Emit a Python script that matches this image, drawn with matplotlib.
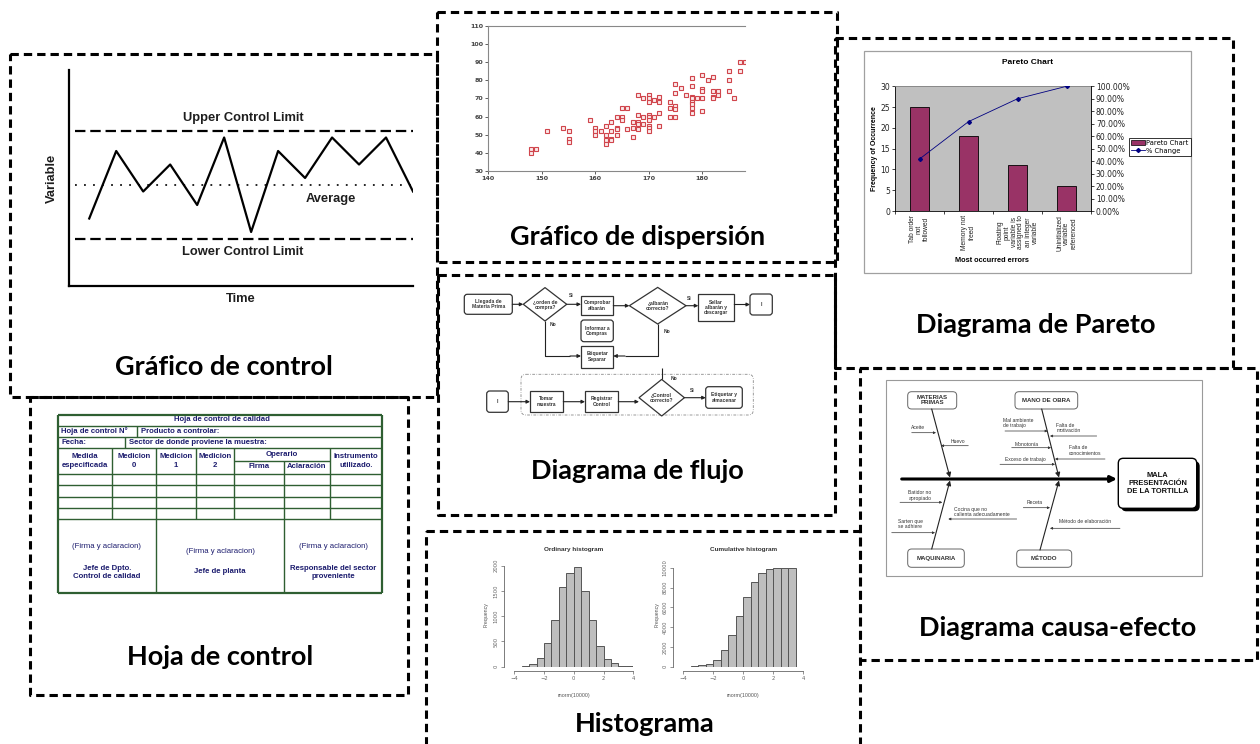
import numpy as np
import matplotlib
matplotlib.use('Agg')
import matplotlib.pyplot as plt
from matplotlib.patches import FancyBboxPatch, Polygon, Rectangle, Patch
from matplotlib.lines import Line2D
from matplotlib.transforms import blended_transform_factory
from matplotlib import font_manager

plt.rcParams['lines.scale_dashes'] = False

# ---------------------------------------------------------------- data
control_values = [1, 6, 3, 5, 2, 7, 0, 6, 4, 7, 5, 7, 3]
control_ucl, control_avg, control_lcl = 7.5, 3.5, -0.5

scatter_x = [148, 148, 149, 151, 154, 155, 155, 155, 159, 160, 160, 160, 161, 162, 162, 162, 162,
             163, 163, 163, 163, 164, 164, 164, 164, 165, 165, 165, 166, 166, 167, 167, 167,
             168, 168, 168, 168, 168, 169, 169, 169, 170, 170, 170, 170, 170, 170, 170, 170, 170,
             171, 171, 172, 172, 172, 172, 174, 174, 174, 175, 175, 175, 175, 175, 176, 177,
             178, 178, 178, 178, 178, 178, 178, 178, 179, 180, 180, 180, 180, 180, 181, 182, 182,
             182, 182, 183, 183, 185, 185, 185, 186, 187, 187, 188]
scatter_y = [42, 40, 42, 52, 54, 52, 48, 46, 58, 54, 52, 50, 52, 55, 50, 47, 45,
             57, 48, 47, 52, 60, 54, 53, 50, 60, 58, 65, 65, 53, 57, 54, 49,
             72, 61, 57, 56, 53, 70, 60, 56, 72, 70, 68, 61, 60, 58, 55, 54, 52,
             69, 60, 71, 68, 62, 55, 68, 65, 60, 78, 73, 66, 64, 60, 76, 72,
             81, 77, 71, 70, 68, 67, 65, 62, 70, 83, 75, 74, 70, 63, 80, 82, 74,
             71, 70, 74, 72, 85, 80, 74, 70, 90, 85, 90]
scatter_yticks = [30, 40, 50, 60, 70, 80, 90, 100, 110]
scatter_xticks = [140, 150, 160, 170, 180]

pareto_categories = ["Tab order\nnot\nfollowed", "Memory not\nfreed",
                     "Floating\npoint\nvariable is\nassigned to\nan integer\nvariable",
                     "Uninitialized\nvariable\nreferenced"]
pareto_counts = [25, 18, 11, 6]
pareto_cum_pct = [41.67, 71.67, 90.0, 100.0]

hist_ord_edges = [-4.0, -3.5, -3.0, -2.5, -2.0, -1.5, -1.0, -0.5, 0.0, 0.5, 1.0, 1.5, 2.0, 2.5, 3.0, 3.5, 4.0]
hist_ord_counts = [2, 10, 53, 165, 462, 917, 1571, 1861, 1967, 1498, 917, 409, 152, 66, 20, 7]
hist_cum_edges = [-3.5, -3.0, -2.5, -2.0, -1.5, -1.0, -0.5, 0.0, 0.5, 1.0, 1.5, 2.0, 2.5, 3.0, 3.5]
hist_cum_counts = [30, 130, 300, 670, 1650, 3200, 5150, 7000, 8520, 9430, 9830, 9970, 10000, 10000]

panel_titles = ["Gráfico de control", "Gráfico de dispersión", "Diagrama de Pareto",
                "Diagrama de flujo", "Hoja de control", "Histograma", "Diagrama causa-efecto"]

# ---------------------------------------------------------------- setup
W, H = 1260, 744
fig = plt.figure(figsize=(W / 100, H / 100), dpi=100)
fig.patch.set_facecolor('white')

names = {f.name for f in font_manager.fontManager.ttflist}
TITLE_FONT = 'Lato' if 'Lato' in names else 'DejaVu Sans'
ARIAL = 'Liberation Sans' if 'Liberation Sans' in names else 'DejaVu Sans'
NARROW = 'Liberation Sans Narrow' if 'Liberation Sans Narrow' in names else ARIAL


def px_axes(x0, y0, x1, y1, **kw):
    return fig.add_axes([x0 / W, 1 - y1 / H, (x1 - x0) / W, (y1 - y0) / H], **kw)


ov = px_axes(0, 0, W, H)
ov.set_xlim(0, W)
ov.set_ylim(H, 0)
ov.axis('off')
ov.set_zorder(5)
ov.patch.set_alpha(0)


def rbox(x0, y0, x1, y1, rounded=False, lw=0.8, ec='#222222', fc='white', r=3, ls='-', z=3, ax=ov):
    if rounded:
        p = FancyBboxPatch((x0, y0), x1 - x0, y1 - y0, boxstyle=f'round,pad=0,rounding_size={r}',
                           lw=lw, ec=ec, fc=fc, ls=ls, zorder=z)
    else:
        p = Rectangle((x0, y0), x1 - x0, y1 - y0, lw=lw, ec=ec, fc=fc, ls=ls, zorder=z)
    ax.add_patch(p)
    return p


def arrow(x0, y0, x1, y1, lw=0.8, ms=5, c='#222222', z=4, ax=ov):
    ax.annotate('', xy=(x1, y1), xytext=(x0, y0),
                arrowprops=dict(arrowstyle='-|>', color=c, lw=lw, mutation_scale=ms,
                                shrinkA=0, shrinkB=0), zorder=z)


def line(xs, ys, lw=0.8, c='#222222', z=4, ls='-', ax=ov):
    ax.plot(xs, ys, color=c, lw=lw, ls=ls, zorder=z, solid_capstyle='butt')


# ---------------------------------------------------------------- dashed frames
frames = [(10, 54, 437, 397), (437, 12, 837, 262), (835, 38, 1233, 368), (438, 275, 835, 515),
          (30, 397, 408, 695), (426, 531, 860, 760), (860, 368, 1257, 660)]
for (x0, y0, x1, y1) in frames:
    ov.plot([x0, x1, x1, x0, x0], [y0, y0, y1, y1, y0], color='black', lw=2.2,
            ls=(0, (6.0, 3.6)), zorder=2)

title_pos = [(224, 367), (638, 237), (1036, 325), (637, 471), (220, 657), (645, 724), (1058, 628)]
for t, (x, y) in zip(panel_titles, title_pos):
    ov.text(x, y, t, ha='center', va='center', fontsize=19.5, fontweight='bold',
            family=TITLE_FONT, color='black', zorder=6)

# ---------------------------------------------------------------- control chart
ac = px_axes(69, 70, 413, 286)
ac.set_xlim(-0.75, 12)
ac.set_ylim(-4, 12)
ac.plot(range(len(control_values)), control_values, color='black', lw=1.6, zorder=3)
ac.hlines([control_ucl, control_lcl], -0.53, 12, colors='black', lw=1.6, linestyles=[(0, (7.5, 3.5))])
ac.hlines([control_avg], -0.53, 12, colors='black', lw=1.2, linestyles=[(0, (1.3, 5.2))])
for s in ['top', 'right']:
    ac.spines[s].set_visible(False)
for s in ['left', 'bottom']:
    ac.spines[s].set_linewidth(1.6)
ac.set_xticks([])
ac.set_yticks([])
ac.patch.set_alpha(0)
cc = '#1e1e1e'
ov.text(243, 118, 'Upper Control Limit', ha='center', va='center', fontsize=9.3, fontweight='bold', family=ARIAL, color=cc)
ov.text(331, 199, 'Average', ha='center', va='center', fontsize=9.3, fontweight='bold', family=ARIAL, color=cc)
ov.text(243, 252, 'Lower Control Limit', ha='center', va='center', fontsize=9.3, fontweight='bold', family=ARIAL, color=cc)
ov.text(241, 299, 'Time', ha='center', va='center', fontsize=9.3, fontweight='bold', family=ARIAL, color=cc)
ov.text(52, 178, 'Variable', ha='center', va='center', rotation=90, fontsize=9.3, fontweight='bold', family=ARIAL, color=cc)

# ---------------------------------------------------------------- scatter
asc = px_axes(488.3, 25.7, 745, 171.3)
asc.set_xlim(140, 188)
asc.set_ylim(30, 110)
asc.plot(scatter_x, scatter_y, ls='none', marker='s', ms=3.0, mfc='#fbeaea', mec='#d0454c', mew=0.8)
asc.set_xticks(scatter_xticks)
asc.set_yticks(scatter_yticks)
asc.tick_params(labelsize=4.6, colors='#444444', length=2, width=0.6, pad=1.5)
for lab in asc.get_xticklabels() + asc.get_yticklabels():
    lab.set_fontweight('bold')
asc.spines['right'].set_visible(False)
for s in ['top', 'left', 'bottom']:
    asc.spines[s].set_color('#888888')
    asc.spines[s].set_linewidth(0.8)

# ---------------------------------------------------------------- pareto
rbox(864, 50.7, 1191, 273, ec='#a0a0a0', lw=0.9, fc='white', z=1)
ap = px_axes(895, 86.3, 1091, 211)
ap.set_zorder(6)
ap.set_facecolor('#c0c0c0')
ap.set_xlim(-0.5, 3.5)
ap.set_ylim(0, 30)
ap.bar(range(4), pareto_counts, width=0.4, color='#993366', edgecolor='black', lw=0.6, zorder=3)
ap.set_yticks([0, 5, 10, 15, 20, 25, 30])
ap.set_xticks([-0.5, 0.5, 1.5, 2.5, 3.5])
ap.set_xticklabels([])
ap.tick_params(labelsize=5.5, length=2, width=0.6, pad=1.5, colors='#222222')
for s in ['top', 'right']:
    ap.spines[s].set_color('#808080')
    ap.spines[s].set_linewidth(0.6)
for s in ['left', 'bottom']:
    ap.spines[s].set_linewidth(0.6)
ap2 = ap.twinx()
ap2.set_ylim(0, 100)
ap2.plot(range(4), pareto_cum_pct, color='#000080', lw=0.6, marker='D', ms=2, zorder=4)
ap2.set_yticks(np.arange(0, 101, 10))
ap2.set_yticklabels([f'{v:.2f}%' for v in np.arange(0, 101, 10)])
ap2.tick_params(labelsize=5.5, length=2, width=0.6, pad=1.5, colors='#222222')
for s in ['top', 'left', 'bottom']:
    ap2.spines[s].set_visible(False)
ap2.spines['right'].set_linewidth(0.6)
tr = blended_transform_factory(ap.transData, ap.transAxes)
for i, lab in enumerate(pareto_categories):
    ap.text(i, -0.035, lab, transform=tr, rotation=90, ha='center', va='top', multialignment='center',
            fontsize=4.8, family=ARIAL, color='#222222', linespacing=1.0)
ov.text(1027.3, 62.3, 'Pareto Chart', ha='center', va='center', fontsize=6, fontweight='bold', family=ARIAL)
ov.text(992.3, 260.7, 'Most occurred errors', ha='center', va='center', fontsize=5.3, fontweight='bold', family=ARIAL)
ov.text(875, 149, 'Frequency of Occurrence', ha='center', va='center', rotation=90, fontsize=5.0,
        fontweight='bold', family=ARIAL)
leg = ap2.legend([Patch(facecolor='#993366', edgecolor='black', lw=0.5),
                  Line2D([], [], color='#000080', lw=0.6, marker='D', ms=2)],
                 ['Pareto Chart', '% Change'], loc='upper left',
                 bbox_to_anchor=(1129 / W, 1 - 137.7 / H), bbox_transform=fig.transFigure,
                 fontsize=4.9, frameon=True, fancybox=False, edgecolor='black', borderpad=0.3,
                 handlelength=2.0, handleheight=0.8, labelspacing=0.3, borderaxespad=0, handletextpad=0.25)
leg.get_frame().set_linewidth(0.7)

# ---------------------------------------------------------------- flow diagram
ffs = dict(ha='center', va='center', fontsize=3.6, fontweight='bold', family=ARIAL, color='#333333',
           zorder=6, linespacing=1.1)
flow_boxes = [("Llegada de\nMateria Prima", 464.3, 294.3, 512.3, 314.3, True),
              ("Comprobar\nalbarán", 581, 295.7, 613.3, 315, False),
              ("Sellar\nalbarán y\ndescargar", 698.3, 294, 734.3, 321, False),
              ("I", 750, 294, 772.3, 315, True),
              ("Informar a\nCompras", 581, 320, 613.3, 341.7, True),
              ("Etiquetar\nSeparar", 581, 345.7, 613.3, 367.7, False),
              ("I", 486.7, 391, 508.3, 412.3, True),
              ("Tomar\nmuestra", 530, 390.7, 563.3, 412.3, False),
              ("Registrar\nControl", 585, 390.7, 618.3, 412.3, False),
              ("Etiquetar y\nalmacenar", 705.7, 386.7, 742.3, 408.3, True)]
flow_diamonds = [("¿orden de\ncompra?", 545, 304.3, 21.7, 16.7),
                 ("¿albarán\ncorrecto?", 657.7, 305.7, 28.3, 18.3),
                 ("¿Control\ncorrecto?", 661.7, 397.7, 22.7, 18.3)]
rbox(521, 374.3, 753.3, 415, rounded=True, r=5, lw=0.6, ec='#8a8a8a', fc='none', ls=(0, (2, 1, 0.5, 1)), z=2)
for (t, x0, y0, x1, y1, rnd) in flow_boxes:
    rbox(x0, y0, x1, y1, rounded=rnd, r=3, lw=0.9, ec='#333333')
    ov.text((x0 + x1) / 2, (y0 + y1) / 2, t, **ffs)
for (t, cx, cy, hw, hh) in flow_diamonds:
    ov.add_patch(Polygon([(cx - hw, cy), (cx, cy - hh), (cx + hw, cy), (cx, cy + hh)], closed=True,
                         fc='white', ec='#333333', lw=0.9, zorder=3))
    ov.text(cx, cy, t, **ffs)
arrow(512.3, 304.3, 523.3, 304.3)
arrow(566.7, 304.3, 581, 304.3)
arrow(613.3, 305.7, 629.4, 305.7)
arrow(686, 305.7, 698.3, 305.7)
arrow(734.3, 304.5, 750, 304.5)
line([545, 545, 570], [321, 356, 356])
arrow(570, 356, 581, 356)
line([657.7, 657.7, 625], [324, 356, 356])
arrow(625, 356, 613.3, 356)
arrow(508.3, 401.7, 530, 401.7)
arrow(563.3, 401.7, 585, 401.7)
arrow(618.3, 401.7, 639, 401.7)
arrow(684.4, 397.7, 705.7, 397.7)
line([661.7, 661.7], [368.3, 379.4])
for (t, x, y) in [("Si", 571.7, 295.7), ("Si", 689, 299), ("No", 553.3, 325), ("No", 667.3, 331.7),
                  ("No", 674.3, 379), ("Si", 692.7, 390)]:
    ov.text(x, y, t, **ffs)

# ---------------------------------------------------------------- hoja de control
GC = '#2f5f32'
NC = '#1c1c6e'
cols = [58.3, 112.3, 155.7, 195.7, 234.3, 284.3, 330, 382.3]
rows = [415, 426, 436.7, 448.3, 474, 485, 496.7, 508.3, 519.3, 593.3]
for y in rows[1:-1]:
    line([58.3, 382.3], [y, y], lw=1.0, c=GC)
line([58.3, 382.3], [rows[0], rows[0]], lw=1.6, c=GC)
line([58.3, 382.3], [rows[-1], rows[-1]], lw=1.6, c=GC)
line([58.3, 58.3], [415, 593.3], lw=1.6, c=GC)
line([382.3, 382.3], [415, 593.3], lw=1.6, c=GC)
for x in cols[1:-1]:
    if x == 284.3:
        line([x, x], [461, 519.3], lw=1.0, c=GC)
    else:
        line([x, x], [448.3, 519.3], lw=1.0, c=GC)
line([234.3, 330], [461, 461], lw=1.0, c=GC)
line([137.3, 137.3], [426, 436.7], lw=1.0, c=GC)
line([125, 125], [436.7, 448.3], lw=1.0, c=GC)
line([155.7, 155.7], [519.3, 593.3], lw=1.0, c=GC)
line([284.3, 284.3], [519.3, 593.3], lw=1.0, c=GC)
hb = dict(fontsize=5.6, fontweight='bold', family=NARROW, color=NC, zorder=6, va='center', linespacing=1.25)
ov.text(222.3, 419.8, 'Hoja de control de calidad', ha='center', **hb)
ov.text(61, 431.5, 'Hoja de control N°', ha='left', **hb)
ov.text(141, 431.5, 'Producto a controlar:', ha='left', **hb)
ov.text(61, 442.5, 'Fecha:', ha='left', **hb)
ov.text(129, 442.5, 'Sector de donde proviene la muestra:', ha='left', **hb)
for (t, x) in [('Medida\nespecificada', 85.3), ('Medicion\n0', 134), ('Medicion\n1', 175.7),
               ('Medicion\n2', 215), ('Instrumento\nutilizado.', 356)]:
    ov.text(x, 461, t, ha='center', **hb)
ov.text(281.7, 455, 'Operario', ha='center', **hb)
ov.text(259.3, 467, 'Firma', ha='center', **hb)
ov.text(306.7, 467, 'Aclaración', ha='center', **hb)
hn = dict(fontsize=5.6, family=NARROW, color=NC, zorder=6, va='center', ha='center')
ov.text(106.7, 546.7, '(Firma y aclaracion)', **hn)
ov.text(220, 551.7, '(Firma y aclaracion)', **hn)
ov.text(333.3, 546.7, '(Firma y aclaracion)', **hn)
ov.text(106.7, 572.7, 'Jefe de Dpto.\nControl de calidad', ha='center', multialignment='center', **hb)
ov.text(220, 571.7, 'Jefe de planta', ha='center', **hb)
ov.text(333.3, 572.7, 'Responsable del sector\nproveniente', ha='center', multialignment='center', **hb)


# ---------------------------------------------------------------- histograms
def r_hist(box, edges, counts, ylim, yticks, title, title_xy, xlab_xy, ylab_xy):
    a = px_axes(*box)
    a.bar(edges[:-1], counts, width=np.diff(edges), align='edge', color='#bebebe',
          edgecolor='#555555', lw=0.7)
    a.set_xlim(-4, 4)
    a.set_ylim(*ylim)
    for s in ['top', 'right']:
        a.spines[s].set_visible(False)
    a.spines['left'].set_position(('outward', 7.5))
    a.spines['bottom'].set_position(('outward', 3))
    a.spines['left'].set_bounds(0, yticks[-1])
    a.spines['bottom'].set_bounds(-4, 4)
    for s in ['left', 'bottom']:
        a.spines[s].set_color('#666666')
        a.spines[s].set_linewidth(0.6)
    a.set_xticks([-4, -2, 0, 2, 4])
    a.set_yticks(yticks)
    a.tick_params(labelsize=3.8, colors='#666666', length=2, width=0.5, pad=2)
    for lab in a.get_yticklabels():
        lab.set_rotation(90)
        lab.set_va('center')
    a.patch.set_alpha(0)
    ov.text(*title_xy, title, ha='center', va='center', fontsize=4.6, fontweight='bold', family=ARIAL, color='#333333')
    ov.text(*xlab_xy, 'rnorm(10000)', ha='center', va='center', fontsize=3.8, family=ARIAL, color='#555555')
    ov.text(*ylab_xy, 'Frequency', ha='center', va='center', rotation=90, fontsize=3.8, family=ARIAL, color='#555555')
    return a


r_hist((514.3, 565.7, 633.3, 666.7), hist_ord_edges, hist_ord_counts, (0, 2000), [0, 500, 1000, 1500, 2000],
       'Ordinary histogram', (573.7, 549.3), (573.7, 695), (486, 615))
r_hist((683.3, 567.7, 803.3, 666.7), hist_cum_edges, hist_cum_counts, (0, 10000),
       [0, 2000, 4000, 6000, 8000, 10000],
       'Cumulative histogram', (743.3, 549.3), (743.3, 695), (656.7, 615))

# ---------------------------------------------------------------- fishbone
rbox(885.7, 380, 1201.7, 575.7, ec='#9a9a9a', lw=0.8, fc='white', z=2)
ov.annotate('', xy=(1117, 479), xytext=(901.7, 479),
            arrowprops=dict(arrowstyle='-|>', color='black', lw=2.2, mutation_scale=9, shrinkA=0, shrinkB=0),
            zorder=4)
rbox(1121.3, 461.3, 1199.7, 511.3, rounded=True, r=5, lw=0, ec='black', fc='black', z=3)
rbox(1118.3, 458.3, 1196.7, 508.3, rounded=True, r=5, lw=1.0, ec='black', fc='white', z=3)
ov.text(1157.5, 483.3, 'MALA\nPRESENTACIÓN\nDE LA TORTILLA', ha='center', va='center', fontsize=5.4,
        fontweight='bold', family=ARIAL, color='#111111', zorder=6, linespacing=1.15, multialignment='center')
fish_cats = [("MATERIAS\nPRIMAS", 907.7, 391.7, 956.7, 409), ("MANO DE OBRA", 1015, 391.7, 1077.7, 409),
             ("MAQUINARIA", 907.7, 549, 964.3, 567.3), ("MÉTODO", 1016.7, 550, 1071.7, 567.3)]
for (t, x0, y0, x1, y1) in fish_cats:
    rbox(x0, y0, x1, y1, rounded=True, r=4, lw=0.7, ec='#666666', z=3)
    ov.text((x0 + x1) / 2, (y0 + y1) / 2, t, ha='center', va='center', fontsize=4.4, fontweight='bold',
            family=ARIAL, color='#333333', zorder=6, linespacing=1.05)
for (x0, y0, x1, y1) in [(931.7, 409, 950, 477.5), (1041.7, 409, 1059, 477.5),
                         (931.7, 549, 950, 480.5), (1040, 550, 1059, 480.5)]:
    ov.annotate('', xy=(x1, y1), xytext=(x0, y0),
                arrowprops=dict(arrowstyle='-|>', color='#222222', lw=0.8, mutation_scale=7, shrinkA=0, shrinkB=0),
                zorder=4)
fish_causes = [("Aceite", 918.3, 427.7, 911.7, 936, 432.7),
               ("Huevo", 958.3, 441.7, 968.3, 941, 445.7),
               ("Mal ambiente\nde trabajo", 1018.3, 423.3, 1005, 1047.7, 431),
               ("Falta de\nmotivación", 1068.3, 428.3, 1096.7, 1050, 436),
               ("Monotonía", 1026.7, 445, 1011.7, 1051, 447.7),
               ("Falta de\nconocimientos", 1085, 450.5, 1105, 1055, 459),
               ("Exceso de trabajo", 1025, 459.3, 1000, 1055, 464.3),
               ("Batidor no\napropiado", 920, 495.7, 900, 942.3, 502.3),
               ("Cocina que no\ncalienta adecuadamente", 981.7, 511.7, 1016.7, 948.3, 519),
               ("Sarten que\nse adhiere", 910, 524.3, 891.7, 935, 532.7),
               ("Receta", 1035, 502.3, 1023.3, 1050, 507.7),
               ("Método de elaboración", 1085, 521.7, 1120, 1050, 528.3)]
for (t, tx, ty, lx0, lx1, ly) in fish_causes:
    ov.annotate('', xy=(lx1, ly), xytext=(lx0, ly),
                arrowprops=dict(arrowstyle='-|>', color='#333333', lw=0.5, mutation_scale=3.5, shrinkA=0, shrinkB=0),
                zorder=4)
    ov.text(tx, ty, t, ha='center', va='center', fontsize=3.6, family=ARIAL, color='#333333', zorder=6,
            linespacing=1.1, multialignment='left')

fig.savefig('out.png', dpi=100, facecolor='white')
